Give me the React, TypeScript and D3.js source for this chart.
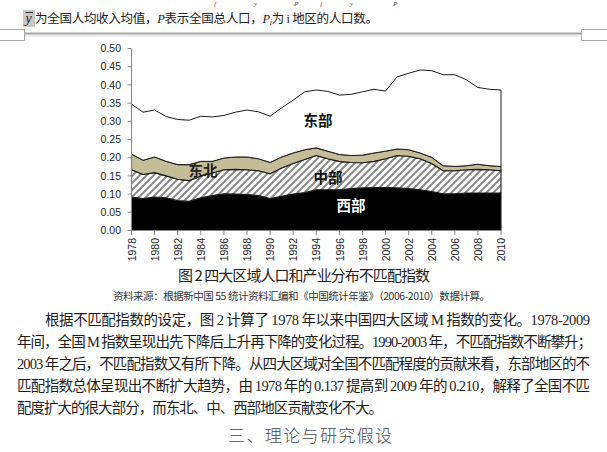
import React from 'react';
import * as d3 from 'd3';

const years = [1978, 1979, 1980, 1981, 1982, 1983, 1984, 1985, 1986, 1987, 1988, 1989, 1990, 1991, 1992, 1993, 1994, 1995, 1996, 1997, 1998, 1999, 2000, 2001, 2002, 2003, 2004, 2005, 2006, 2007, 2008, 2009, 2010];
const west = [0.092, 0.088, 0.092, 0.090, 0.082, 0.080, 0.090, 0.096, 0.101, 0.100, 0.099, 0.096, 0.088, 0.094, 0.100, 0.104, 0.112, 0.112, 0.112, 0.115, 0.117, 0.118, 0.118, 0.117, 0.115, 0.112, 0.107, 0.101, 0.101, 0.103, 0.103, 0.103, 0.103];
const central = [0.075, 0.066, 0.067, 0.060, 0.059, 0.057, 0.060, 0.062, 0.066, 0.068, 0.068, 0.068, 0.068, 0.078, 0.084, 0.091, 0.094, 0.085, 0.078, 0.072, 0.069, 0.072, 0.079, 0.089, 0.089, 0.085, 0.077, 0.063, 0.063, 0.064, 0.065, 0.064, 0.061];
const northeast = [0.043, 0.039, 0.043, 0.040, 0.040, 0.044, 0.040, 0.032, 0.032, 0.034, 0.035, 0.033, 0.031, 0.030, 0.029, 0.027, 0.021, 0.021, 0.019, 0.019, 0.021, 0.023, 0.021, 0.018, 0.018, 0.016, 0.017, 0.014, 0.012, 0.011, 0.014, 0.011, 0.012];
const east = [0.137, 0.132, 0.129, 0.123, 0.124, 0.122, 0.124, 0.122, 0.117, 0.123, 0.129, 0.129, 0.127, 0.135, 0.145, 0.159, 0.159, 0.164, 0.163, 0.168, 0.174, 0.175, 0.165, 0.198, 0.210, 0.228, 0.238, 0.250, 0.252, 0.236, 0.211, 0.210, 0.210];
const yTicks = [0, 0.05, 0.1, 0.15, 0.2, 0.25, 0.3, 0.35, 0.4, 0.45, 0.5];
const xTickYears = [1978, 1980, 1982, 1984, 1986, 1988, 1990, 1992, 1994, 1996, 1998, 2000, 2002, 2004, 2006, 2008, 2010];
const seriesKeys = ['west', 'central', 'northeast', 'east'];
const seriesNames = ['西部', '中部', '东北', '东部'];

const CJK = '"Noto Sans CJK SC", sans-serif';
const SERIF = '"Liberation Serif", "DejaVu Serif", serif';
const SANS = '"Liberation Sans", Arial, sans-serif';

export default function App() {
  const W = 607, H = 452;
  const x = d3.scaleLinear().domain([1978, 2010]).range([131.5, 501]);
  const y = d3.scaleLinear().domain([0, 0.5]).range([230.5, 48.5]);
  const rows = years.map((yr, i) => ({ year: yr, west: west[i], central: central[i], northeast: northeast[i], east: east[i] }));
  const stacked = d3.stack<any>().keys(seriesKeys)(rows);
  const area = d3.area<any>()
    .x((d: any) => x(d.data.year))
    .y0((d: any) => y(d[0]))
    .y1((d: any) => y(d[1]));
  const fills: Record<string, string> = { west: '#000', central: 'url(#hatch)', northeast: '#c4bd97', east: '#fff' };
  const axisColor = '#868686';

  const bodyColor = '#1c1c1c';
  const num = (s: string) => <tspan fontFamily={SERIF}>{s}</tspan>;

  return (
    <div style={{ position: 'absolute', left: 0, top: 0 }}>
      <svg width={W} height={H} viewBox={`0 0 ${W} ${H}`} style={{ display: 'block', background: '#fff' }}>
        <defs>
          <pattern id="hatch" patternUnits="userSpaceOnUse" width="7" height="7">
            <rect width="7" height="7" fill="#fff" />
            <path d="M-1,8 L8,-1 M-1,1 L1,-1 M6,8 L8,6" stroke="#8c8c8c" strokeWidth="2" />
          </pattern>
        </defs>

        {/* formula fragments at top of page */}
        <g fontFamily={SERIF} fontStyle="italic" fontSize="7" fill="#555">
          <text x={214} y={6}>{'{'}</text>
          <text x={254} y={6}>y</text>
          <text x={294} y={6}>P</text>
          <text x={320} y={6}>{'{'}</text>
          <text x={350} y={6}>y</text>
          <text x={393} y={6}>P</text>
        </g>

        {/* first text line */}
        <rect x={23} y={10} width={12} height={17} fill="#c8c8c8" />
        <line x1={25.5} x2={33} y1={12.5} y2={12.5} stroke="#222" strokeWidth={0.9} />
        <text x={25.5} y={23} fontFamily={SERIF} fontStyle="italic" fontSize="14" fill="#222">y</text>
        <text x={35} y={23} fontFamily={CJK} fontSize="12.5" fill="#222" textLength={343} lengthAdjust="spacing">
          为全国人均收入均值，<tspan fontFamily={SERIF} fontStyle="italic">P</tspan>表示全国总人口，<tspan fontFamily={SERIF} fontStyle="italic">P</tspan><tspan fontFamily={SERIF} fontStyle="italic" fontSize="8" dy="2">i</tspan><tspan dy="-2">为 </tspan><tspan fontFamily={SERIF}>i</tspan> 地区的人口数。
        </text>

        {/* page separator */}
        <g stroke="#a8a8a8" fill="none">
          <line x1={24} x2={582} y1={33.5} y2={33.5} strokeWidth={2} />
          <line x1={24} x2={582} y1={36} y2={36} stroke="#dcdcdc" strokeWidth={1} />
          <path d="M0,29.5 H24.5 V40.5 H0" strokeWidth={1} />
          <path d="M607,29.5 H581.5 V40.5 H607" strokeWidth={1} />
        </g>

        {/* areas */}
        {stacked.map((s: any) => (
          <path key={s.key} d={area(s) || ''} fill={fills[s.key]} stroke="#1a1a1a" strokeWidth={s.key === 'east' ? 1 : 1.1} strokeLinejoin="round" />
        ))}

        {/* axes */}
        <line x1={131.5} x2={131.5} y1={48.5} y2={230.5} stroke={axisColor} strokeWidth={1} />
        <line x1={131.5} x2={501} y1={230.5} y2={230.5} stroke={axisColor} strokeWidth={1} />
        {yTicks.map(t => (
          <g key={t}>
            <line x1={127.5} x2={131.5} y1={y(t)} y2={y(t)} stroke={axisColor} />
            <text x={121} y={y(t)} dy="0.35em" textAnchor="end" fontFamily={SANS} fontSize="10.5" fill="#222">{t.toFixed(2)}</text>
          </g>
        ))}
        {xTickYears.map(yr => (
          <g key={yr}>
            <line x1={x(yr)} x2={x(yr)} y1={230.5} y2={235} stroke={axisColor} />
            <text transform={`translate(${x(yr) + 0.5},238) rotate(-90)`} textAnchor="end" dy="0.35em" fontFamily={SANS} fontSize="10.5" fill="#222">{yr}</text>
          </g>
        ))}

        {/* series labels */}
        <g fontFamily={CJK} fontWeight="bold" fontSize="14.5" textAnchor="middle">
          <text x={318} y={121} dy="0.36em" fill="#111">{seriesNames[3]}</text>
          <text x={203} y={171} dy="0.36em" fill="#222">{seriesNames[2]}</text>
          <text x={328} y={178} dy="0.36em" fill="#111">{seriesNames[1]}</text>
          <text x={351} y={206} dy="0.36em" fill="#fff">{seriesNames[0]}</text>
        </g>

        {/* caption and source */}
        <text x={178} y={281} fontFamily={CJK} fontSize="15" fill="#222" textLength={252} lengthAdjust="spacing">图 2 四大区域人口和产业分布不匹配指数</text>
        <text x={113} y={300} fontFamily={CJK} fontSize="10.5" fill="#333" textLength={377} lengthAdjust="spacing">资料来源：根据新中国 55 统计资料汇编和《中国统计年鉴》（2006-2010）数据计算。</text>

        {/* body paragraph */}
        <g fontFamily={CJK} fontSize="14.5" fill={bodyColor}>
          <text x={45} y={325} textLength={545} lengthAdjust="spacing">根据不匹配指数的设定，图 {num('2')} 计算了 {num('1978')} 年以来中国四大区域 {num('M')} 指数的变化。{num('1978-2009')}</text>
          <text x={17} y={347} textLength={575} lengthAdjust="spacing">年间，全国 {num('M')} 指数呈现出先下降后上升再下降的变化过程。{num('1990-2003')} 年，不匹配指数不断攀升；</text>
          <text x={17} y={369} textLength={573} lengthAdjust="spacing">{num('2003')} 年之后，不匹配指数又有所下降。从四大区域对全国不匹配程度的贡献来看，东部地区的不</text>
          <text x={17} y={391} textLength={573} lengthAdjust="spacing">匹配指数总体呈现出不断扩大趋势，由 {num('1978')} 年的 {num('0.137')} 提高到 {num('2009')} 年的 {num('0.210')}，解释了全国不匹</text>
          <text x={17} y={413} textLength={366} lengthAdjust="spacing">配度扩大的很大部分，而东北、中、西部地区贡献变化不大。</text>
        </g>

        {/* section heading */}
        <text x={228} y={442} fontFamily={CJK} fontWeight="300" fontSize="17" fill="#4a4a4a" textLength={164} lengthAdjust="spacing">三、理论与研究假设</text>
      </svg>
    </div>
  );
}
